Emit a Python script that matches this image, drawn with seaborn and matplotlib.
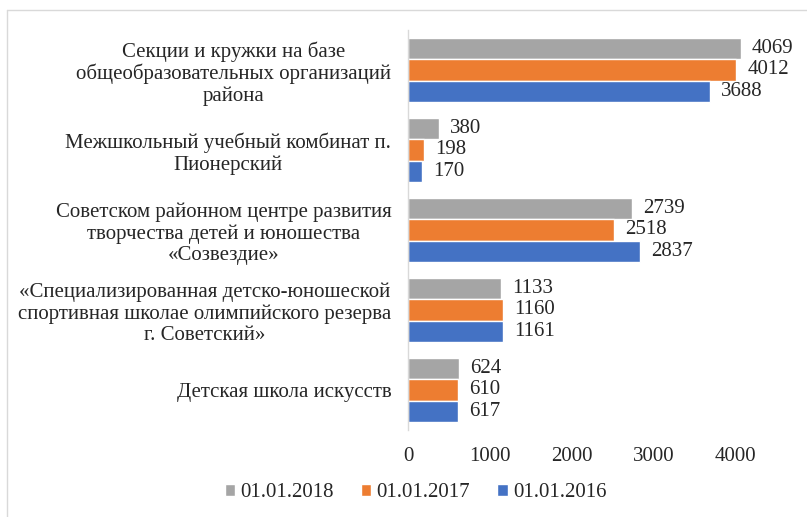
import numpy as np
import pandas as pd
import matplotlib
matplotlib.use("Agg")
import matplotlib.pyplot as plt
import seaborn as sns
from matplotlib.lines import Line2D

categories = [
    "Секции и кружки на базе\nобщеобразовательных организаций\nрайона",
    "Межшкольный учебный комбинат п.\nПионерский",
    "Советском районном центре развития\nтворчества детей и юношества\n«Созвездие»",
    "«Специализированная детско-юношеской\nспортивная школае олимпийского резерва\nг. Советский»",
    "Детская школа искусств",
]
series = ["01.01.2018", "01.01.2017", "01.01.2016"]
v2018 = [4069, 380, 2739, 1133, 624]
v2017 = [4012, 198, 2518, 1160, 610]
v2016 = [3688, 170, 2837, 1161, 617]
colors = ["#A5A5A5", "#ED7D31", "#4472C4"]

rows = []
for s, vals in zip(series, [v2018, v2017, v2016]):
    for c, v in zip(categories, vals):
        rows.append({"cat": c, "date": s, "value": v})
df = pd.DataFrame(rows)

sns.set_style("white")
plt.rcParams['font.family'] = ['Liberation Serif', 'DejaVu Serif']

fig = plt.figure(figsize=(8.07, 5.17), dpi=100)
ax = fig.add_axes([0.5056, 0.1683, 0.4560, 0.7737])

sns.barplot(df, y="cat", x="value", hue="date", hue_order=series,
            palette=colors, orient="h", width=0.79, ax=ax,
            saturation=1, legend=True)

for cont in ax.containers:
    ax.bar_label(cont, padding=8, fontsize=15, color="#262626")

ax.set_xlim(0, 4500)
ax.set_ylim(4.5, -0.5)
ax.set_xticks([0, 1000, 2000, 3000, 4000])
ax.set_xticklabels(["0", "1000", "2000", "3000", "4000"], fontsize=15, color="#262626")
ax.set_yticks(range(len(categories)))
ax.set_yticklabels(categories, fontsize=15, color="#262626", multialignment="center",
                   linespacing=1.15)
ax.tick_params(axis="y", length=0, pad=12)
ax.tick_params(axis="x", length=0, pad=12)
ax.set_xlabel("")
ax.set_ylabel("")
for sp in ["top", "right", "bottom"]:
    ax.spines[sp].set_visible(False)
ax.spines["left"].set_color("#D9D9D9")
ax.spines["left"].set_linewidth(1)

handles, labels = ax.get_legend_handles_labels()
ax.legend_.remove()
fig.legend(handles, labels, loc="center", bbox_to_anchor=(0.515, 0.047), ncol=3,
           frameon=False, fontsize=15, handlelength=0.5, handleheight=0.5,
           handletextpad=0.25, columnspacing=1.3, labelcolor="#262626")

# outer chart border (top and left visible)
fig.add_artist(Line2D([7 / 807, 1], [1 - 10 / 517, 1 - 10 / 517], transform=fig.transFigure,
                      color="#D9D9D9", lw=1))
fig.add_artist(Line2D([7 / 807, 7 / 807], [0, 1 - 10 / 517], transform=fig.transFigure,
                      color="#D9D9D9", lw=1))

fig.savefig("out.png", dpi=100)
